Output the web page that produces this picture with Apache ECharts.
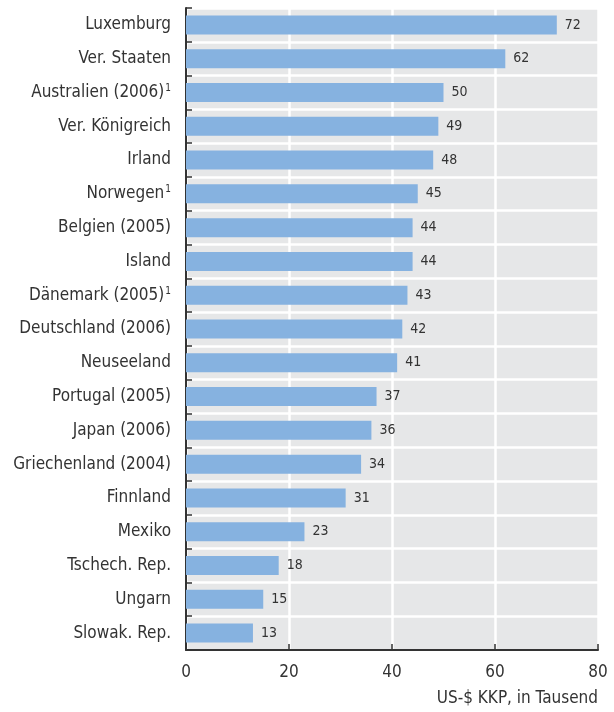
<!DOCTYPE html>
<html>
<head>
<meta charset="utf-8">
<script src="https://cdn.jsdelivr.net/npm/echarts@6/dist/echarts.min.js"></script>
<style>html,body{margin:0;padding:0;background:#fff}#c{width:614px;height:712px}</style>
</head>
<body>
<div id="c"></div>
<script>
var categories = ["Luxemburg","Ver. Staaten","Australien (2006)","Ver. Königreich","Irland","Norwegen","Belgien (2005)","Island","Dänemark (2005)","Deutschland (2006)","Neuseeland","Portugal (2005)","Japan (2006)","Griechenland (2004)","Finnland","Mexiko","Tschech. Rep.","Ungarn","Slowak. Rep."];
var footnoted = ["Australien (2006)","Norwegen","Dänemark (2005)"];
var values = [72,62,50,49,48,45,44,44,43,42,41,37,36,34,31,23,18,15,13];
var xTicks = [0,20,40,60,80];
var axisTitle = "US-$ KKP, in Tausend";

var FONT = "'Liberation Sans Narrow', 'DejaVu Sans Condensed', sans-serif";
var chart = echarts.init(document.getElementById('c'));
chart.setOption({
  animation: false,
  grid: {left: 186, right: 16, top: 8, bottom: 62, show: true, backgroundColor: '#e6e7e8', borderWidth: 0},
  xAxis: {
    type: 'value', min: xTicks[0], max: xTicks[xTicks.length-1], interval: 20,
    axisLine: {show: true, lineStyle: {color: '#333', width: 2}},
    axisTick: {show: true, inside: true, length: 6, lineStyle: {color: '#333', width: 1.5}},
    axisLabel: {color: '#333', fontSize: 17, fontFamily: FONT, margin: 14},
    splitLine: {show: true, lineStyle: {color: '#fff', width: 2.5}},
    name: axisTitle, nameLocation: 'end',
    nameTextStyle: {color: '#333', fontSize: 17, fontFamily: FONT, align: 'right', verticalAlign: 'top', padding: [40, 0, 0, 0]},
    nameGap: 0
  },
  yAxis: {
    type: 'category', inverse: true, data: categories,
    axisLine: {show: true, lineStyle: {color: '#333', width: 2}},
    axisTick: {show: true, inside: true, length: 6, lineStyle: {color: '#333', width: 1.5}},
    axisLabel: {
      color: '#333', fontSize: 17, fontFamily: FONT, margin: 15,
      formatter: function (v) { return footnoted.indexOf(v) >= 0 ? v + '{sup|1}' : v; },
      rich: {sup: {fontSize: 10, fontFamily: FONT, color: '#333', verticalAlign: 'top', padding: [0, 0, 8, 1]}}
    },
    splitLine: {show: true, lineStyle: {color: '#fff', width: 2.5}}
  },
  series: [{
    type: 'bar', data: values, barWidth: 19,
    itemStyle: {color: '#86b2e0'},
    label: {show: true, position: 'right', distance: 8, color: '#333', fontSize: 14, fontFamily: FONT}
  }]
});
</script>
</body>
</html>
